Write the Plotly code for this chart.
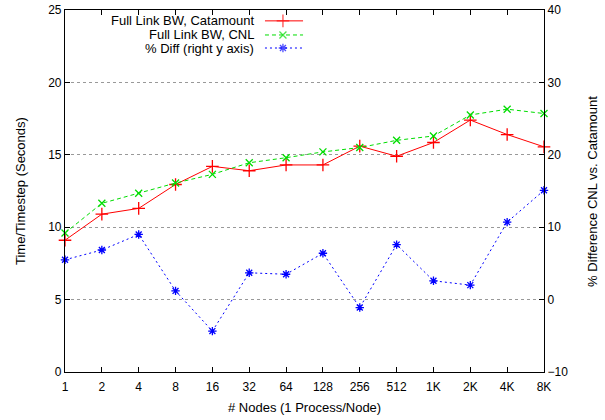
import plotly.graph_objects as go

nodes = ["1", "2", "4", "8", "16", "32", "64", "128", "256", "512", "1K", "2K", "4K", "8K"]
catamount = [9.1, 10.9, 11.3, 12.95, 14.2, 13.9, 14.3, 14.3, 15.6, 14.9, 15.85, 17.4, 16.4, 15.55]
cnl = [9.6, 11.65, 12.35, 13.05, 13.65, 14.45, 14.8, 15.2, 15.5, 16.0, 16.3, 17.75, 18.15, 17.85]
pct_diff = [5.5, 6.85, 9.0, 1.2, -4.35, 3.7, 3.5, 6.4, -1.1, 7.6, 2.6, 2.0, 10.7, 15.1]

legend_names = ["Full Link BW, Catamount", "Full Link BW, CNL", "% Diff (right y axis)"]
colors = ["#ff0000", "#00dd00", "#0000ff"]
dashes = ["solid", "4px,3px", "2px,3px"]
symbols = ["cross-thin-open", "x-thin-open", "asterisk-open"]
msizes = [9, 7, 7]

xi = list(range(len(nodes)))
FONT = "Liberation Sans, Arial, Helvetica, sans-serif"

fig = go.Figure()
series = [(catamount, "y"), (cnl, "y"), (pct_diff, "y2")]
for k, (vals, ya) in enumerate(series):
    fig.add_trace(go.Scatter(
        x=xi, y=vals, yaxis=ya, mode="lines+markers", name=legend_names[k],
        line=dict(color=colors[k], width=1, dash=dashes[k]),
        marker=dict(symbol=symbols[k], size=msizes[k], color=colors[k],
                    line=dict(color=colors[k], width=1.3)),
        cliponaxis=False, showlegend=False))

# gnuplot-style key: right-aligned text, sample to the right
row_y = [0.970, 0.931, 0.895]
for k in range(3):
    fig.add_trace(go.Scatter(
        x=[0.4175, 0.455, 0.497], y=[row_y[k]] * 3, xaxis="x3", yaxis="y3",
        mode="lines+markers",
        line=dict(color=colors[k], width=1, dash=dashes[k]),
        marker=dict(symbol=symbols[k], size=[0, msizes[k], 0], color=colors[k],
                    line=dict(color=colors[k], width=1.3)),
        cliponaxis=False, showlegend=False, hoverinfo="skip"))
    fig.add_annotation(x=0.399, y=row_y[k], xref="paper", yref="paper",
                       text=legend_names[k], showarrow=False, xanchor="right",
                       yanchor="middle", font=dict(size=13, color="black", family=FONT))

fig.add_annotation(x=-0.094, y=0.5, xref="paper", yref="paper",
                   text="Time/Timestep (Seconds)", textangle=-90, showarrow=False,
                   xanchor="center", yanchor="middle",
                   font=dict(size=13, color="black", family=FONT))
fig.add_annotation(x=1.100, y=0.5, xref="paper", yref="paper",
                   text="% Difference CNL vs. Catamount", textangle=-90, showarrow=False,
                   xanchor="center", yanchor="middle",
                   font=dict(size=13, color="black", family=FONT))
fig.add_annotation(x=0.5, y=-0.097, xref="paper", yref="paper",
                   text="# Nodes (1 Process/Node)", showarrow=False,
                   xanchor="center", yanchor="middle",
                   font=dict(size=13, color="black", family=FONT))

axis_common = dict(showline=True, linecolor="black", linewidth=1.2,
                   ticks="inside", ticklen=5, tickcolor="black", tickwidth=1,
                   zeroline=False, automargin=False,
                   tickfont=dict(size=12, color="black", family=FONT))

fig.update_layout(
    width=605, height=420,
    margin=dict(l=65, r=61, t=10, b=48, autoexpand=False),
    paper_bgcolor="white", plot_bgcolor="white",
    font=dict(family=FONT, size=12, color="black"),
    xaxis=dict(range=[0, len(nodes) - 1], tickvals=xi, ticktext=nodes,
               mirror="ticks", showgrid=False, ticklabelstandoff=3, **axis_common),
    yaxis=dict(range=[0, 25], dtick=5, showgrid=True, gridcolor="#999999",
               griddash="dot", gridwidth=1, **axis_common),
    yaxis2=dict(range=[-10, 40], dtick=10, overlaying="y", side="right",
                showgrid=False, **axis_common),
    xaxis3=dict(range=[0, 1], overlaying="x", visible=False, automargin=False),
    yaxis3=dict(range=[0, 1], overlaying="y", visible=False, anchor="x3", automargin=False),
)
fig.layout.xaxis3.anchor = "y3"

fig.write_html("out.html")
